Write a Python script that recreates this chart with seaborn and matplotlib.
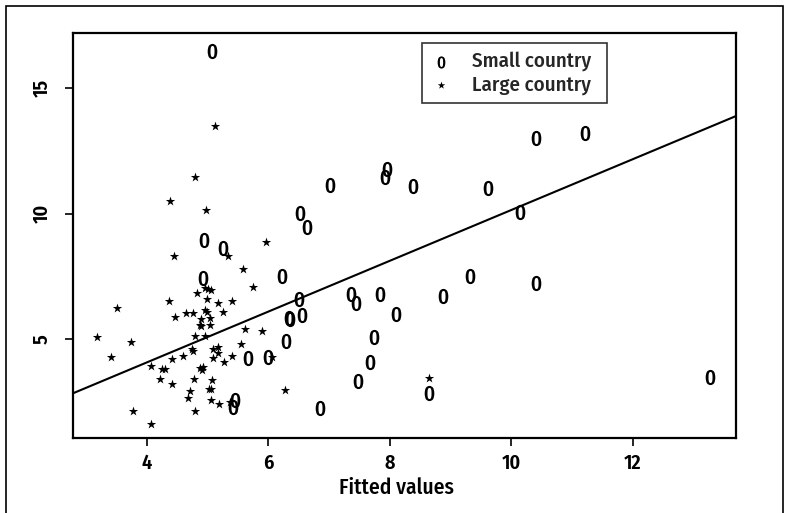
import matplotlib
matplotlib.use("Agg")
import matplotlib.pyplot as plt
import matplotlib.patches as mpatches
import seaborn as sns
import pandas as pd

# ---- data ----
small_x = [5.08, 4.95, 5.25, 4.92, 6.23, 6.50, 6.34, 6.36, 6.56, 6.30, 5.66, 5.99,
           5.45, 5.42, 6.53, 6.64, 7.02, 7.95, 7.93, 8.38, 9.61, 10.14, 9.32, 7.36,
           7.44, 7.84, 8.88, 8.11, 7.74, 7.67, 7.48, 8.65, 6.85, 10.41, 11.22, 10.41,
           13.28]
small_y = [16.49, 8.96, 8.63, 7.43, 7.52, 6.60, 5.86, 5.80, 5.97, 4.93, 4.24, 4.31,
           2.58, 2.31, 10.02, 9.49, 11.15, 11.78, 11.48, 11.11, 11.04, 10.08, 7.53, 6.80,
           6.46, 6.79, 6.74, 6.01, 5.10, 4.11, 3.34, 2.87, 2.25, 13.03, 13.23, 7.25,
           3.51]
large_x = [3.52, 3.18, 3.74, 3.42, 4.37, 4.47, 4.65, 4.77, 4.83, 4.89, 4.88, 4.90,
           4.79, 4.74, 4.77, 4.59, 4.42, 4.07, 4.26, 4.30, 4.22, 4.42, 4.78, 4.72,
           4.68, 3.77, 4.79, 4.07, 4.87, 4.91, 4.93, 4.96, 5.01, 5.06, 5.00, 5.18,
           5.41, 5.25, 4.96, 5.00, 5.04, 5.04, 4.96, 5.59, 5.75, 5.62, 5.90, 5.55,
           5.09, 5.18, 5.18, 5.09, 5.40, 5.28, 6.07, 5.07, 5.03, 5.06, 5.06, 5.19,
           5.37, 6.27, 5.12, 4.79, 4.38, 4.98, 4.45, 5.34, 5.96, 8.65]
large_y = [6.24, 5.10, 4.89, 4.31, 6.53, 5.90, 6.04, 6.06, 6.86, 5.80, 5.57, 5.53,
           5.14, 4.60, 4.55, 4.35, 4.22, 3.94, 3.83, 3.80, 3.43, 3.23, 3.43, 2.95,
           2.67, 2.16, 2.13, 1.64, 3.85, 3.76, 3.90, 7.06, 6.99, 6.96, 6.61, 6.43,
           6.54, 6.10, 6.17, 6.08, 5.84, 5.57, 5.13, 7.80, 7.07, 5.40, 5.33, 4.81,
           4.61, 4.68, 4.44, 4.27, 4.35, 4.11, 4.31, 3.38, 3.02, 3.01, 2.58, 2.41,
           2.51, 2.98, 13.51, 11.47, 10.52, 10.15, 8.33, 8.33, 8.88, 3.45]
group_labels = ["Small country", "Large country"]
x_ticks = [4, 6, 8, 10, 12]
y_ticks = [5, 10, 15]
x_label = "Fitted values"
line_intercept = 0.03
line_slope = 1.012

df = pd.concat([
    pd.DataFrame({"fitted": small_x, "actual": small_y, "group": group_labels[0]}),
    pd.DataFrame({"fitted": large_x, "actual": large_y, "group": group_labels[1]}),
], ignore_index=True)

sns.set_theme(style="white")
FONT = "Fira Sans Condensed"
plt.rcParams["font.family"] = [FONT, "DejaVu Sans"]
plt.rcParams["font.weight"] = "medium"
plt.rcParams["mathtext.fontset"] = "custom"
plt.rcParams["mathtext.rm"] = FONT + ":semibold"
plt.rcParams["mathtext.default"] = "regular"

fig = plt.figure(figsize=(7.87, 5.13), dpi=100)
ax = fig.add_axes([72.9 / 787, 1 - 438 / 513, (736 - 72.9) / 787, (438 - 33.3) / 513])

sns.scatterplot(data=df[df.group == group_labels[0]], x="fitted", y="actual",
                marker="$0$", s=120, color="black", linewidth=0, ax=ax,
                label=group_labels[0])
sns.scatterplot(data=df[df.group == group_labels[1]], x="fitted", y="actual",
                marker="*", s=50, color="black", linewidth=0, ax=ax,
                label=group_labels[1])
ax.axline((0, line_intercept), slope=line_slope, color="black", lw=1.5)

ax.set_xlim(2.786, 13.7)
ax.set_ylim(1.07, 17.19)
ax.set_xticks(x_ticks)
ax.set_yticks(y_ticks)
ax.set_xticklabels([str(t) for t in x_ticks])
ax.set_yticklabels([str(t) for t in y_ticks], rotation=90, va="center")
ax.tick_params(axis="both", which="both", direction="out", length=6, width=1.2,
               color="black", labelcolor="black", bottom=True, left=True,
               labelsize=14.5)
ax.tick_params(axis="x", pad=5)
ax.tick_params(axis="y", pad=9)
for lab in ax.get_xticklabels() + ax.get_yticklabels():
    lab.set_fontweight(600)
    lab.set_fontfamily([FONT, "DejaVu Sans"])
ax.set_xlabel(x_label, fontsize=15.5, fontweight="medium", color="black")
ax.xaxis.set_label_coords(0.488, -0.098)
ax.set_ylabel("")
for sp in ax.spines.values():
    sp.set_color("black")
    sp.set_linewidth(1.6)

leg = ax.legend(loc="upper left", bbox_to_anchor=(0.5265, 0.9753, 0.279, 0.0),
                mode="expand", frameon=True,
                fancybox=False, edgecolor="black", fontsize=15, borderpad=0.4,
                handletextpad=1.0, labelspacing=0.18, handlelength=1.0,
                borderaxespad=0, markerscale=0.8)
leg.get_frame().set_linewidth(1.2)
for t in leg.get_texts():
    t.set_fontweight("medium")

fig.patches.append(mpatches.Rectangle((6 / 787, -0.02), (783 - 6) / 787,
                                      (513 - 6) / 513 + 0.02,
                                      transform=fig.transFigure, fill=False,
                                      edgecolor="black", lw=1.2))

fig.savefig("out.png", dpi=100, facecolor="white")
